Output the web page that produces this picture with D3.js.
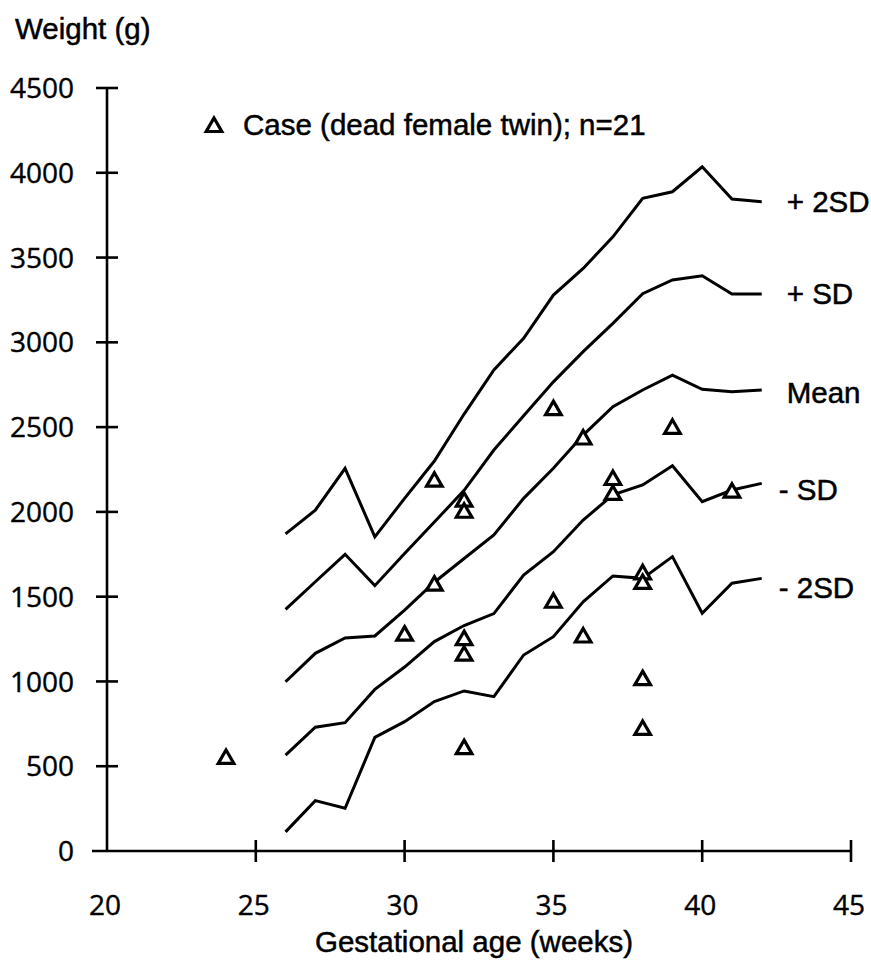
<!DOCTYPE html>
<html>
<head>
<meta charset="utf-8">
<script src="https://cdn.jsdelivr.net/npm/d3@7"></script>
<style>
  html, body { margin: 0; padding: 0; background: #fff; }
  svg { display: block; }
</style>
</head>
<body>
<svg id="chart" width="871" height="964"></svg>
<script>
// ---- data ----
const weeks = [26, 27, 28, 29, 30, 31, 32, 33, 34, 35, 36, 37, 38, 39, 40, 41, 42];
const plus2SD  = [1870, 2010, 2257, 1853, 2080, 2300, 2577, 2837, 3024, 3279, 3436, 3622, 3849, 3888, 4035, 3845, 3829];
const plusSD   = [1425, 1588, 1750, 1565, 1755, 1940, 2127, 2365, 2567, 2767, 2945, 3112, 3287, 3368, 3393, 3285, 3285];
const meanW    = [998, 1166, 1256, 1268, 1421, 1585, 1725, 1864, 2080, 2257, 2453, 2620, 2719, 2807, 2723, 2709, 2719];
const minusSD  = [566, 730, 757, 953, 1085, 1235, 1330, 1400, 1628, 1765, 1952, 2100, 2159, 2272, 2060, 2129, 2168];
const minus2SD = [113, 297, 252, 670, 763, 881, 944, 910, 1156, 1264, 1470, 1622, 1608, 1736, 1402, 1579, 1608];

const seriesNames  = ["+ 2SD", "+ SD", "Mean", "- SD", "- 2SD"];
const seriesValues = [plus2SD, plusSD, meanW, minusSD, minus2SD];
const labelAnchors = [3833, 3291, 2707, 2135, 1557];

const caseWeeks   = [24, 30, 31, 31, 32, 32, 32, 32, 32, 35, 35, 36, 36, 37, 37, 38, 38, 38, 38, 39, 41];
const caseWeights = [543, 1270, 2178, 1565, 2060, 1995, 1244, 1152, 601, 2600, 1464, 2427, 1259, 2188, 2100, 1632, 1575, 1008, 714, 2490, 2113];

const xTicks = [20, 25, 30, 35, 40, 45];
const yTicks = [0, 500, 1000, 1500, 2000, 2500, 3000, 3500, 4000, 4500];

const yTitle = "Weight (g)";
const xTitle = "Gestational age (weeks)";
const legendText = "Case (dead female twin); n=21";

// ---- chart ----
const svg = d3.select("#chart");
const x = d3.scaleLinear().domain([20, 45]).range([107, 851]);
const y = d3.scaleLinear().domain([0, 4500]).range([851, 88]);

const sansFont = "'Liberation Sans', Arial, Helvetica, sans-serif";
const tickFont = "'Open Sans', 'DejaVu Sans', sans-serif";

function sansText(sel) {
  return sel.attr("font-family", sansFont).attr("font-size", 29.5)
    .attr("fill", "#000").attr("stroke", "#000").attr("stroke-width", 0.5);
}
function tickText(sel) {
  return sel.attr("font-family", tickFont).attr("font-size", 28)
    .attr("fill", "#000").attr("stroke", "#000").attr("stroke-width", 0.4);
}

// axes
const axG = svg.append("g").attr("stroke", "#000").attr("stroke-width", 2.6).attr("fill", "none");
axG.append("line").attr("x1", x(20)).attr("x2", x(20)).attr("y1", y(4500)).attr("y2", y(0));
axG.append("line").attr("x1", x(20) - 15).attr("x2", x(45)).attr("y1", y(0)).attr("y2", y(0));

axG.selectAll(".yt").data(yTicks.filter(d => d > 0)).join("line")
  .attr("x1", x(20) - 11).attr("x2", x(20) + 11)
  .attr("y1", d => y(d)).attr("y2", d => y(d));
axG.selectAll(".xt").data(xTicks.filter(d => d > 20)).join("line")
  .attr("x1", d => x(d)).attr("x2", d => x(d))
  .attr("y1", y(0) - 11).attr("y2", y(0) + 11);

svg.append("g").selectAll("text").data(yTicks).join("text")
  .attr("x", 74).attr("y", d => y(d)).attr("dy", "0.36em")
  .attr("text-anchor", "end")
  .call(tickText)
  .text(d => d);

svg.append("g").selectAll("text").data(xTicks).join("text")
  .attr("x", d => x(d) - 2).attr("y", 915)
  .attr("text-anchor", "middle")
  .call(tickText)
  .text(d => d);

// titles
svg.append("text").attr("x", 15).attr("y", 39).call(sansText).text(yTitle);
svg.append("text").attr("x", 474).attr("y", 952).attr("text-anchor", "middle")
  .call(sansText).text(xTitle);

// curves
const line = d3.line().x((d, i) => x(weeks[i])).y(d => y(d));
svg.append("g").selectAll("path").data(seriesValues).join("path")
  .attr("d", d => line(d))
  .attr("fill", "none").attr("stroke", "#000").attr("stroke-width", 3)
  .attr("stroke-linejoin", "miter");

// curve labels
svg.append("g").selectAll("text").data(seriesNames).join("text")
  .attr("x", d => x(42) + (d.startsWith("-") ? 17 : 25))
  .attr("y", (d, i) => y(labelAnchors[i])).attr("dy", "0.36em")
  .call(sansText)
  .text(d => d);

// case markers
const tri = d3.symbol().type(d3.symbolTriangle).size(105);
svg.append("g").selectAll("path").data(caseWeeks).join("path")
  .attr("transform", (d, i) => `translate(${x(d)},${y(caseWeights[i])})`)
  .attr("d", tri())
  .attr("fill", "#fff").attr("stroke", "#000").attr("stroke-width", 3.2)
  .attr("stroke-linejoin", "miter");

// legend
svg.append("path").attr("transform", "translate(214,127)").attr("d", tri())
  .attr("fill", "#fff").attr("stroke", "#000").attr("stroke-width", 3.2);
svg.append("text").attr("x", 243).attr("y", 135).call(sansText).text(legendText);
</script>
</body>
</html>
